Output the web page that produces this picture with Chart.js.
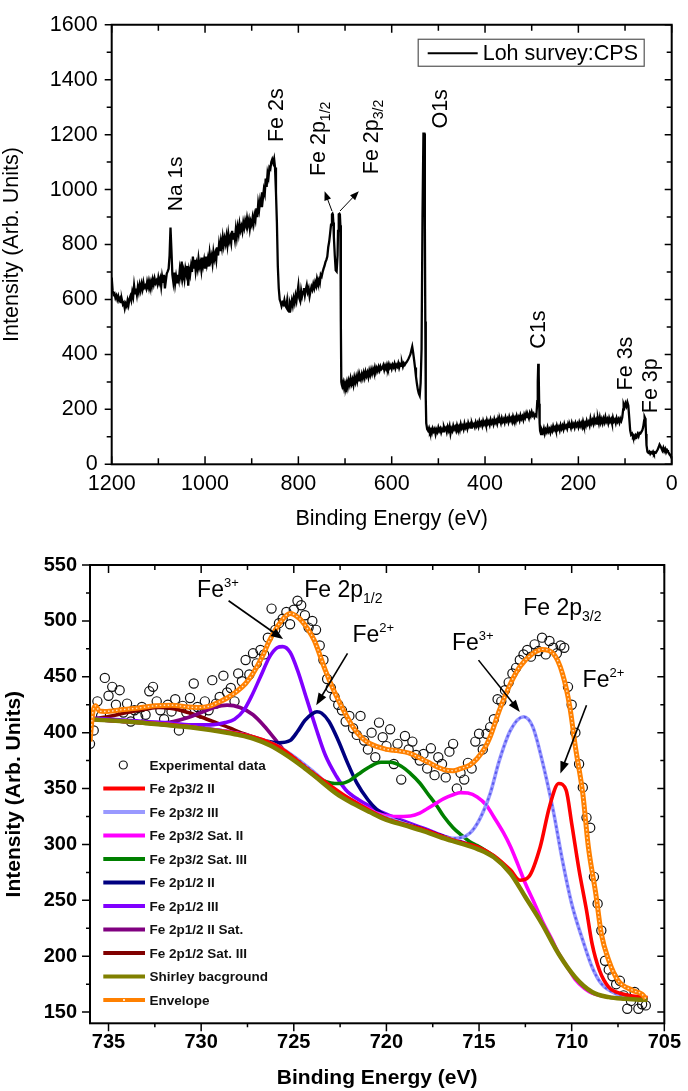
<!DOCTYPE html>
<html><head><meta charset="utf-8">
<script src="https://cdn.jsdelivr.net/npm/chart.js@4.4.1/dist/chart.umd.min.js"></script>
<style>
html,body{margin:0;padding:0;background:#fff;}
#wrap{position:relative;width:688px;height:1091px;overflow:hidden;}
canvas{position:absolute;left:0;}
#c1{top:0;} #c2{top:540px;}
</style></head><body>
<div id="wrap"><canvas id="c1" width="688" height="540"></canvas><canvas id="c2" width="688" height="551"></canvas></div>
<script>
// ---------------- Survey spectrum (top) ----------------
const surveyE = [1200,1198,1196,1194,1192,1190,1188,1186,1184,1182,1180,1178,1176,1174,1172,1170,1168,1166,1164,1162,1160,1158,1156,1154,1152,1150,1148,1146,1144,1142,1140,1138,1136,1134,1132,1130,1128,1126,1124,1122,1120,1118,1116,1114,1112,1110,1108,1106,1104,1102,1100,1098,1096,1094,1092,1090,1088,1086,1084,1082,1080,1078,1076,1074,1072,1070,1068,1066,1064,1062,1060,1058,1056,1054,1052,1050,1048,1046,1044,1042,1040,1038,1036,1034,1032,1030,1028,1026,1024,1022,1020,1018,1016,1014,1012,1010,1008,1006,1004,1002,1000,998,996,994,992,990,988,986,984,982,980,978,976,974,972,970,968,966,964,962,960,958,956,954,952,950,948,946,944,942,940,938,936,934,932,930,928,926,924,922,920,918,916,914,912,910,908,906,904,902,900,898,896,894,892,890,888,886,884,882,880,878,876,874,872,870,868,866,864,862,860,858,856,854,852,850,848,846,844,842,840,838,836,834,832,830,828,826,824,822,820,818,816,814,812,810,808,806,804,802,800,798,796,794,792,790,788,786,784,782,780,778,776,774,772,770,768,766,764,762,760,758,756,754,752,750,748,746,744,742,740,738,736,734,732,730,728,727,726,725,724,722,720,718,716,715,714,713,712,711,710,709,708,707,706,704,702,700,698,696,694,692,690,688,686,684,682,680,678,676,674,672,670,668,666,664,662,660,658,656,654,652,650,648,646,644,642,640,638,636,634,632,630,628,626,624,622,620,618,616,614,612,610,608,606,604,602,600,598,596,594,592,590,588,586,584,582,580,578,576,574,572,570,568,566,564,562,560,558,556,554,552,550,548,546,544,542,540,538,536,534,532,530,529,528,527,526,524,522,520,518,516,514,512,510,508,506,504,502,500,498,496,494,492,490,488,486,484,482,480,478,476,474,472,470,468,466,464,462,460,458,456,454,452,450,448,446,444,442,440,438,436,434,432,430,428,426,424,422,420,418,416,414,412,410,408,406,404,402,400,398,396,394,392,390,388,386,384,382,380,378,376,374,372,370,368,366,364,362,360,358,356,354,352,350,348,346,344,342,340,338,336,334,332,330,328,326,324,322,320,318,316,314,312,310,308,306,304,302,300,298,296,294,292,290,288,287,286,285,284,283,282,280,278,276,274,272,270,268,266,264,262,260,258,256,254,252,250,248,246,244,242,240,238,236,234,232,230,228,226,224,222,220,218,216,214,212,210,208,206,204,202,200,198,196,194,192,190,188,186,184,182,180,178,176,174,172,170,168,166,164,162,160,158,156,154,152,150,148,146,144,142,140,138,136,134,132,130,128,126,124,122,120,118,116,114,112,110,108,106,104,103,101,99,97,95,93,91,89,87,85,83,81,79,77,75,73,71,69,67,65,63,61,59,58,57,56,55,54,52,50,48,46,44,42,40,38,36,34,32,30,28,26,24,22,20,18,16,14,12,10,8,6,4,2,0];
const surveyI = [680,632,618,622,606,614,600,612,596,604,590,598,582,588,568,584,576,596,580,602,612,598,626,610,650,622,640,618,646,628,652,634,656,638,662,644,650,640,664,648,668,652,666,648,672,656,676,660,668,656,680,662,676,648,684,664,690,640,668,694,702,712,760,862,780,690,664,698,658,684,662,690,672,710,688,738,680,702,676,712,694,722,650,706,690,720,700,756,712,744,704,730,712,748,720,734,708,752,724,744,716,756,728,748,720,768,742,758,732,772,748,766,744,790,760,800,776,812,790,826,798,822,804,830,800,838,812,826,806,850,822,842,818,856,828,862,840,874,852,866,848,880,862,886,870,896,874,890,858,884,872,898,876,906,890,932,900,950,928,960,940,990,968,1000,985,1040,1010,1060,1045,1080,1075,1100,1110,1098,1112,1080,990,880,720,640,600,590,576,588,582,598,578,572,596,560,556,586,574,596,578,604,588,614,596,624,650,604,594,632,612,628,642,616,636,652,628,640,612,630,646,636,656,642,662,650,676,662,672,660,690,684,700,712,722,736,744,756,790,810,840,872,910,912,906,880,830,762,706,702,760,850,906,910,912,908,870,520,300,290,284,298,278,296,284,300,282,304,290,312,294,308,290,316,300,318,302,324,306,322,310,328,314,332,316,336,322,334,318,340,326,344,330,346,334,352,336,350,340,354,342,356,346,350,360,344,358,348,362,350,364,352,360,348,362,354,366,350,362,356,368,352,364,358,370,356,368,362,368,372,378,384,392,400,414,428,406,380,352,320,294,272,258,250,296,420,900,1204,1204,900,520,240,150,128,122,132,118,126,114,130,120,128,110,126,118,134,122,130,116,128,120,136,126,132,118,136,124,138,112,130,122,140,128,136,124,142,130,138,126,146,132,140,128,148,134,142,130,150,138,146,134,150,140,146,136,152,140,150,138,156,144,152,140,158,146,154,142,160,148,156,144,162,150,158,146,164,152,160,148,166,154,162,150,168,156,164,152,170,158,166,154,172,160,168,156,174,162,170,158,176,164,172,160,178,166,174,162,180,170,184,172,178,168,186,176,190,178,184,172,180,176,230,300,366,330,220,150,122,110,124,116,130,112,126,118,134,120,128,116,132,122,138,126,134,122,140,128,136,124,142,130,140,128,146,134,140,130,146,136,142,132,150,138,146,134,150,140,148,136,152,140,150,138,156,142,150,140,158,146,154,142,166,150,160,148,168,152,162,148,166,150,170,152,164,150,166,154,172,156,164,150,168,156,164,150,170,156,162,150,168,156,164,152,166,158,170,200,218,208,222,212,226,214,170,124,108,112,100,104,96,106,100,110,102,114,112,118,124,136,160,172,168,150,110,70,46,42,46,38,44,40,46,38,44,42,48,54,62,72,66,58,50,60,48,56,44,52,46,40,36,30,22];
const surveyXTicks = [1200,1000,800,600,400,200,0];
const surveyYTicks = [0,200,400,600,800,1000,1200,1400,1600];

// ---------------- Fe 2p fit (bottom) ----------------
const fitXTicks = [735,730,725,720,715,710,705];
const fitYTicks = [150,200,250,300,350,400,450,500,550];

const expE = [736.0,735.8,735.6,735.4,735.2,735.0,734.8,734.6,734.4,734.2,734.0,733.8,733.6,733.4,733.2,733.0,732.8,732.6,732.4,732.2,732.0,731.8,731.6,731.4,731.2,731.0,730.8,730.6,730.4,730.2,730.0,729.8,729.6,729.4,729.2,729.0,728.8,728.6,728.4,728.2,728.0,727.8,727.6,727.4,727.2,727.0,726.8,726.6,726.4,726.2,726.0,725.8,725.6,725.4,725.2,725.0,724.8,724.6,724.4,724.2,724.0,723.8,723.6,723.4,723.2,723.0,722.8,722.6,722.4,722.2,722.0,721.8,721.6,721.4,721.2,721.0,720.8,720.6,720.4,720.2,720.0,719.8,719.6,719.4,719.2,719.0,718.8,718.6,718.4,718.2,718.0,717.8,717.6,717.4,717.2,717.0,716.8,716.6,716.4,716.2,716.0,715.8,715.6,715.4,715.2,715.0,714.8,714.6,714.4,714.2,714.0,713.8,713.6,713.4,713.2,713.0,712.8,712.6,712.4,712.2,712.0,711.8,711.6,711.4,711.2,711.0,710.8,710.6,710.4,710.2,710.0,709.8,709.6,709.4,709.2,709.0,708.8,708.6,708.4,708.2,708.0,707.8,707.6,707.4,707.2,707.0,706.8,706.6,706.4,706.2,706.0];
const expI = [390,402,428,415,449,433,441,425,438,418,426,410,420,414,423,416,437,441,428,420,412,425,419,430,402,424,418,431,444,423,417,428,420,447,426,432,451,436,440,428,453,446,465,452,471,462,474,470,485,511,492,498,502,508,497,510,518,514,505,494,500,492,478,465,448,440,432,425,420,410,415,404,398,415,393,385,400,378,409,396,388,403,372,390,358,397,385,392,380,375,381,368,386,362,378,372,360,383,390,350,364,358,373,368,392,399,385,399,405,412,430,428,438,445,453,458,465,470,474,468,479,473,485,470,482,476,471,478,476,441,425,400,372,351,324,315,271,247,223,196,188,182,175,178,165,153,160,168,153,157,156];

const p32II_E = [735.9,730,726,724,722,720,718,716.5,716,715.1,714.2,713.3,712.8,712.3,711.7,711.2,710.7,710.3,710,709.6,709.2,708.9,708.5,708,707.3,706.2,705.9];
const p32II_I = [412,404,389,364.5,341,323,313.5,304.5,302,298,290,277,268,271.5,297.8,333.6,354.5,348.5,318.7,276.9,241.1,211.2,187.3,172.4,166.4,163.4,163];

const p32III_E = [735.9,730,726,724,722.5,721,720.5,719.6,718.7,717.8,717,716.5,716,715.5,715,714.4,713.9,713.3,712.6,712.1,711.6,711,710.5,710,709.4,708.9,708.4,707.6,706.6,705.9];
const p32III_I = [412,404,389,366,344,331,327,322,317,311,307,305.5,306,310,321.6,345.5,375.4,402.2,414.2,405.2,375.4,330.6,285.8,247,214.2,190.3,175.4,166.4,163.4,162];

const p32SatII_E = [735.9,730,727,725,723.6,722.7,721.8,721,720.5,719.6,718.7,718.2,717.8,717.3,716.9,716.4,716,715.6,715.1,714.6,714.2,713.7,713.3,712.9,712.5,712,711.6,711.1,710.7,710.2,709.8,709.3,708.9,708,707,706,705.9];
const p32SatII_I = [412,404,395,377,359,347.5,339,332,328,325,325.5,328,332,337,341,344.5,346.4,346,342.5,335,324.6,311,298,282,265,247,232,216,202.5,189.5,179,171,167,163.5,162,161.2,161];

const p32SatIII_E = [735.9,730,727,726,725,724.3,723.6,723,722.5,722,721.5,720.9,720.3,719.8,719.2,718.7,718.2,717.8,717.3,716.9,716.4,716,715.5,715.1,714.6,714.2,713.5];
const p32SatIII_I = [412,404,395,388,378,368,359,355,354.5,357,363,369.5,373.5,373.5,370,363.4,355,346,335,325,315,309,302.5,299,294,289.5,278];

const p12II_E = [735.9,733,730,728,727.2,726.5,725.8,725.2,724.8,724.4,724,723.75,723.5,723.1,722.6,722.1,721.6,721,720.5,720,719,718,717,716,715.1,714.2];
const p12II_I = [412,408.8,404,399.5,396,392.5,391,393,401,411,417,418.7,417.5,410,393,373,355,340,331,325.5,319,313.5,307.5,302,297,289];

const p12III_E = [735.9,734,732,730.5,729.5,728.7,728.2,727.7,727.3,726.8,726.3,725.9,725.6,725.2,724.8,724.3,723.8,723.3,722.7,722.2,721.5,720.8,720,719,718,717,716,715.1,714.2];
const p12III_I = [413,411,409,407,407,409,412,420,432,450,468,476,477,472,456,430,404,380,361,349,340,333.5,327,320.5,314.5,308,302.5,297,289];

const p12IISat_E = [735.9,734.5,733.2,732.3,731.5,730.7,730,729.3,728.6,727.9,727.2,726.6,726,725.4,724.5,723.6];
const p12IISat_I = [412.5,410.5,409,408.5,410,413.5,418,422.5,424.6,422.5,416,406,394,382,370,358];

const p12SatIII_E = [735.9,735,734,733,732.3,731.5,730.7,730,729.2,728.5,727.7,727,726.3,725.4,724.5,723.6];
const p12SatIII_I = [412,414.5,418,421,422.5,421.5,418,414,409,404.5,399,395,389.5,380.5,369.6,357.7];

const shirleyE = [735.9,735,734,733,732,731,730,729,728,727.2,726.3,725.4,724.5,723.6,722.7,721.8,720.9,720,719,718,717,716,715.1,714.2,713.3,712.5,711.6,710.7,709.8,708.9,708,707.1,706.2,705.9];
const shirleyI = [412,411,410,408.5,407,405.5,403.5,401,398,394.8,388.8,380,369.4,357.5,345.5,336.6,329,322,317,312,306,301,296,288.5,274,253,229,202,181,168,163.4,161.9,161,161];

const envE = [736,735.85,735.7,735.5,735.2,734.3,733.4,732.5,731.6,730.7,730.2,729.5,729,728.6,728.1,727.6,727.2,726.7,726.3,725.7,725.2,724.7,724.3,723.9,723.3,722.9,722.5,721.8,721.3,720.9,720,719.6,718.7,717.8,716.9,716.4,716,715.5,715.1,714.7,714.4,713.9,713.3,712.8,712.1,711.6,711,710.5,710.1,709.8,709.4,709.1,708.7,708.4,708,707.5,706.7,706.2,706];
const envI = [392,418,424,419.5,419,420.5,422,424,424.6,423,422.5,424,427.6,431,436.6,444,453,468,482.8,499.3,506.7,502.2,494,482.8,456,440,426,405,395,390.3,385,384.3,381.3,373.9,367,366,367.9,371,376.9,386,396.3,420.1,444,459,470.9,474.5,470.9,453,423.1,387.3,345.5,297.8,256,220.1,196.3,178.4,169.4,166,162];

// ---------------- helpers ----------------
const FONT = '"Liberation Sans", Arial, Helvetica, sans-serif';
const pts = (E, I) => E.map((e, i) => ({x: e, y: I[i]}));

function drawRich(ctx, x, y, parts, rot) {
  ctx.save();
  ctx.translate(x, y);
  if (rot) ctx.rotate(rot);
  let cx = 0;
  for (const p of parts) {
    ctx.font = (p.w || 'normal') + ' ' + p.s + 'px ' + FONT;
    ctx.fillText(p.t, cx, p.dy || 0);
    cx += ctx.measureText(p.t).width;
  }
  ctx.restore();
}
function drawArrow(ctx, x1, y1, x2, y2, lw, hl, hw) {
  const a = Math.atan2(y2 - y1, x2 - x1), c = Math.cos(a), s = Math.sin(a);
  ctx.lineWidth = lw;
  ctx.beginPath(); ctx.moveTo(x1, y1); ctx.lineTo(x2 - c * hl * 0.7, y2 - s * hl * 0.7); ctx.stroke();
  ctx.beginPath(); ctx.moveTo(x2, y2);
  ctx.lineTo(x2 - hl * c + hw * s, y2 - hl * s - hw * c);
  ctx.lineTo(x2 - hl * c - hw * s, y2 - hl * s + hw * c);
  ctx.closePath(); ctx.fill();
}
function framePlugin(cfg) {
  return {
    id: 'frame',
    afterDraw(chart) {
      const {ctx, chartArea: a, scales: {x, y}} = chart;
      ctx.save();
      ctx.strokeStyle = '#000';
      const xm = x.ticks.map(t => t.value), ym = y.ticks.map(t => t.value);
      const mid = arr => arr.slice(1).map((v, i) => (v + arr[i]) / 2);
      const xn = mid(xm), yn = mid(ym);
      ctx.lineWidth = cfg.tw;
      ctx.beginPath();
      [[xm, 0], [xn, 1]].forEach(([vals, k]) => vals.forEach(v => {
        const p = x.getPixelForValue(v);
        ctx.moveTo(p, a.bottom); ctx.lineTo(p, a.bottom + cfg.bottom[k]);
        ctx.moveTo(p, a.top); ctx.lineTo(p, a.top - cfg.top[k]);
      }));
      [[ym, 0], [yn, 1]].forEach(([vals, k]) => vals.forEach(v => {
        const p = y.getPixelForValue(v);
        ctx.moveTo(a.left, p); ctx.lineTo(a.left - cfg.left[k], p);
        ctx.moveTo(a.right, p); ctx.lineTo(a.right + cfg.right[k], p);
      }));
      ctx.stroke();
      ctx.lineWidth = cfg.lw;
      ctx.strokeRect(a.left, a.top, a.right - a.left, a.bottom - a.top);
      ctx.restore();
    }
  };
}
function annotPlugin(cfg) {
  return {
    id: 'annot',
    afterDatasetsDraw(chart) {
      const {ctx, scales: {x, y}} = chart;
      ctx.save();
      ctx.fillStyle = '#000'; ctx.strokeStyle = '#000';
      ctx.textAlign = 'left'; ctx.textBaseline = 'alphabetic';
      cfg.texts.forEach(t => drawRich(ctx, x.getPixelForValue(t.at[0]), y.getPixelForValue(t.at[1]), t.parts, t.rot));
      cfg.arrows.forEach(r => drawArrow(ctx, x.getPixelForValue(r.from[0]), y.getPixelForValue(r.from[1]),
        x.getPixelForValue(r.to[0]), y.getPixelForValue(r.to[1]), r.lw, r.hl, r.hw));
      ctx.restore();
    }
  };
}
function axisCommon(font, tickPad) {
  return {
    type: 'linear',
    grid: {display: false, drawTicks: false},
    border: {display: false},
    ticks: {autoSkip: false, maxRotation: 0, minRotation: 0, padding: tickPad, color: '#000', font: font, callback: v => String(v)}
  };
}

// ---------------- Chart 1: survey ----------------
const rot = -Math.PI / 2;
const surveyAnnot = {
  texts: [
    {at: [1049.4, 921], rot, parts: [{t: 'Na 1s', s: 21}]},
    {at: [833, 1173], rot, parts: [{t: 'Fe 2s', s: 21.5}]},
    {at: [741.9, 1049], rot, parts: [{t: 'Fe 2p', s: 21.5}, {t: '1/2', s: 14, dy: 5}]},
    {at: [628.3, 1056], rot, parts: [{t: 'Fe 2p', s: 21.5}, {t: '3/2', s: 14, dy: 5}]},
    {at: [481.5, 1222], rot, parts: [{t: 'O1s', s: 21.5}]},
    {at: [271.6, 421], rot, parts: [{t: 'C1s', s: 21.5}]},
    {at: [85.1, 269], rot, parts: [{t: 'Fe 3s', s: 21.5}]},
    {at: [31.6, 186], rot, parts: [{t: 'Fe 3p', s: 21.5}]}
  ],
  arrows: [
    {from: [728, 922], to: [743.8, 994], lw: 1, hl: 9, hw: 3.5},
    {from: [710.8, 922], to: [670.5, 994], lw: 1, hl: 9, hw: 3.5}
  ]
};
const surveyLegend = {
  id: 'surveyLegend',
  afterDraw(chart) {
    const {ctx, chartArea: a} = chart;
    const ds = chart.data.datasets[0];
    ctx.save();
    ctx.strokeStyle = '#555'; ctx.lineWidth = 1.2;
    ctx.strokeRect(a.left + 306.5, a.top + 14.5, 226, 27);
    ctx.strokeStyle = ds.borderColor; ctx.lineWidth = 2.2;
    ctx.beginPath(); ctx.moveTo(a.left + 316, a.top + 28.5); ctx.lineTo(a.left + 366, a.top + 28.5); ctx.stroke();
    ctx.fillStyle = '#000'; ctx.font = '21.5px ' + FONT; ctx.textBaseline = 'middle';
    ctx.fillText(ds.label, a.left + 371, a.top + 29.5);
    ctx.restore();
  }
};
const f1 = {family: FONT, size: 21.5, lineHeight: 1.0};
new Chart(document.getElementById('c1'), {
  type: 'line',
  data: {datasets: [{label: 'Loh survey:CPS', data: pts(surveyE, surveyI), borderColor: '#000', borderWidth: 2.3, pointRadius: 0, tension: 0}]},
  options: {
    responsive: false, animation: false, devicePixelRatio: 1,
    layout: {padding: {top: 11.7, right: 16.3, left: 0, bottom: 0}},
    plugins: {legend: {display: false}, tooltip: {enabled: false}},
    scales: {
      x: Object.assign(axisCommon(f1, 9), {
        min: 0, max: 1200, reverse: true,
        afterBuildTicks: s => { s.ticks = surveyXTicks.map(v => ({value: v})); },
        afterFit: s => { s.height = 75.7; },
        title: {display: true, text: 'Binding Energy (eV)', color: '#000', font: {family: FONT, size: 21.5, lineHeight: 1.2}, padding: {top: 0, bottom: 8}}
      }),
      y: Object.assign(axisCommon(f1, 14), {
        min: 0, max: 1600,
        afterBuildTicks: s => { s.ticks = surveyYTicks.map(v => ({value: v})); },
        afterFit: s => { s.width = 111.7; },
        title: {display: true, text: 'Intensity (Arb. Units)', color: '#000', font: {family: FONT, size: 21.5, lineHeight: 1.0}, padding: {top: 1, bottom: 0}}
      })
    }
  },
  plugins: [framePlugin({lw: 2, tw: 1.5, left: [7, 5], right: [-7, -5], top: [-8, -6], bottom: [-8, -6]}), annotPlugin(surveyAnnot), surveyLegend]
});

// ---------------- Chart 2: Fe 2p fit ----------------
const series = [
  {label: 'Fe 2p3/2 II', E: p32II_E, I: p32II_I, color: '#FF0000'},
  {label: 'Fe 2p3/2 III', E: p32III_E, I: p32III_I, color: '#9999FF', dash: '#5a5af0'},
  {label: 'Fe 2p3/2 Sat. II', E: p32SatII_E, I: p32SatII_I, color: '#FF00FF'},
  {label: 'Fe 2p3/2 Sat. III', E: p32SatIII_E, I: p32SatIII_I, color: '#008000'},
  {label: 'Fe 2p1/2 II', E: p12II_E, I: p12II_I, color: '#000080'},
  {label: 'Fe 2p1/2 III', E: p12III_E, I: p12III_I, color: '#8000FF'},
  {label: 'Fe 2p1/2 II Sat.', E: p12IISat_E, I: p12IISat_I, color: '#800080'},
  {label: 'Fe 2p1/2 Sat. III', E: p12SatIII_E, I: p12SatIII_I, color: '#800000'},
  {label: 'Shirley bacground', E: shirleyE, I: shirleyI, color: '#808000', lw: 4.5, order: 3},
  {label: 'Envelope', E: envE, I: envI, color: '#FF8000', lw: 5, order: 1, dash: '#FFE2C2'}
];
const datasets = [{
  label: 'Experimental data', data: pts(expE, expI), showLine: false, order: 40,
  pointStyle: 'circle', pointRadius: 4.6, pointBorderWidth: 1.2, borderColor: '#111', backgroundColor: 'rgba(0,0,0,0)',
  pointBorderColor: '#111', pointBackgroundColor: 'rgba(0,0,0,0)'
}];
series.forEach((s, i) => {
  datasets.push({label: s.label, data: pts(s.E, s.I), borderColor: s.color, borderWidth: s.lw || 3.6, pointRadius: 0,
    cubicInterpolationMode: 'monotone', order: s.order || (10 + i), fill: false});
  if (s.dash) datasets.push({label: '', data: pts(s.E, s.I), borderColor: s.dash, borderWidth: s.lw ? 1.4 : 2,
    borderDash: s.lw ? [1.5, 2.5] : [2.5, 3], pointRadius: 0, cubicInterpolationMode: 'monotone', order: (s.order || (10 + i)) - 0.5, fill: false});
});
const fitAnnot = {
  texts: [
    {at: [730.22, 521.3], parts: [{t: 'Fe', s: 23}, {t: '3+', s: 13, dy: -10}]},
    {at: [724.44, 521.3], parts: [{t: 'Fe 2p', s: 23}, {t: '1/2', s: 14, dy: 6}]},
    {at: [721.83, 481.3], parts: [{t: 'Fe', s: 23}, {t: '2+', s: 13, dy: -10}]},
    {at: [712.62, 505.2], parts: [{t: 'Fe 2p', s: 23}, {t: '3/2', s: 14, dy: 6}]},
    {at: [716.46, 473.9], parts: [{t: 'Fe', s: 23}, {t: '3+', s: 13, dy: -10}]},
    {at: [709.41, 441.0], parts: [{t: 'Fe', s: 23}, {t: '2+', s: 13, dy: -10}]}
  ],
  arrows: [
    {from: [728.52, 518.0], to: [725.58, 483.7], lw: 1.6, hl: 12, hw: 4.5},
    {from: [722.10, 470.9], to: [723.79, 424.6], lw: 1.6, hl: 12, hw: 4.5},
    {from: [715.03, 464.9], to: [712.80, 418.6], lw: 1.6, hl: 12, hw: 4.5},
    {from: [709.20, 424.6], to: [710.61, 363.5], lw: 1.6, hl: 12, hw: 4.5}
  ]
};
const fitLegend = {
  id: 'fitLegend',
  afterDraw(chart) {
    const {ctx, chartArea: a} = chart;
    ctx.save();
    ctx.textBaseline = 'middle';
    ctx.font = 'bold 13.5px ' + FONT;
    const x0 = a.left + 13.3, x1 = a.left + 55, tx = a.left + 59.5;
    let yy = a.top + 200;
    ctx.strokeStyle = '#111'; ctx.lineWidth = 1.2;
    ctx.beginPath(); ctx.arc(a.left + 33.3, yy, 4, 0, Math.PI * 2); ctx.stroke();
    ctx.fillStyle = '#111'; ctx.fillText(datasets[0].label, tx, yy + 1);
    series.forEach(s => {
      yy += 23.5;
      ctx.strokeStyle = s.color; ctx.lineWidth = 4.2;
      ctx.beginPath(); ctx.moveTo(x0, yy); ctx.lineTo(x1, yy); ctx.stroke();
      if (s.label === 'Envelope') { ctx.fillStyle = '#FFE2C2'; ctx.fillRect(a.left + 33, yy - 1, 2, 2); }
      ctx.fillStyle = '#111'; ctx.fillText(s.label, tx, yy + 1);
    });
    ctx.restore();
  }
};
const f2 = {family: FONT, size: 20, weight: 'bold', lineHeight: 1.2};
new Chart(document.getElementById('c2'), {
  type: 'line',
  data: {datasets: datasets},
  options: {
    responsive: false, animation: false, devicePixelRatio: 1,
    layout: {padding: {top: 25, right: 18.5, left: 0, bottom: 0}},
    plugins: {legend: {display: false}, tooltip: {enabled: false}},
    scales: {
      x: Object.assign(axisCommon(f2, 7), {
        min: 705, max: 736, reverse: true,
        afterBuildTicks: s => { s.ticks = fitXTicks.map(v => ({value: v})); },
        afterFit: s => { s.height = 67.7; },
        title: {display: true, text: 'Binding Energy (eV)', color: '#000', font: {family: FONT, size: 21, weight: 'bold', lineHeight: 1.2}, padding: {top: 0, bottom: 0}}
      }),
      y: Object.assign(axisCommon(f2, 13), {
        min: 140, max: 550,
        afterBuildTicks: s => { s.ticks = fitYTicks.map(v => ({value: v})); },
        afterFit: s => { s.width = 90; },
        title: {display: true, text: 'Intensity (Arb. Units)', color: '#000', font: {family: FONT, size: 21, weight: 'bold', lineHeight: 1.2}, padding: {top: 2, bottom: 0}}
      })
    }
  },
  plugins: [framePlugin({lw: 2, tw: 1.5, left: [8, 4], right: [-7, -4], top: [-8, -5], bottom: [8, 4]}), annotPlugin(fitAnnot), fitLegend]
});
</script></body></html>
